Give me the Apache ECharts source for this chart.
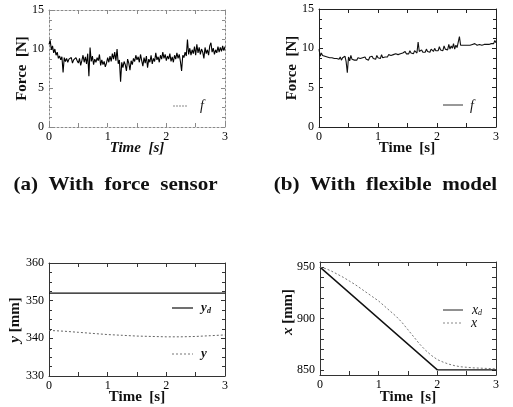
<!DOCTYPE html>
<html><head><meta charset="utf-8">
<script src="https://cdn.jsdelivr.net/npm/echarts@6/dist/echarts.min.js"></script>
<style>html,body{margin:0;padding:0;background:#fff}#c{width:513px;height:407px}</style>
</head><body><div id="c"></div>
<script>
// ---- data ----
const sampleStep = 0.02; // s, sampling step of force records
const forceSensor = [
10.6,11.1,9.9,10.4,9.5,10.0,9.2,9.6,8.8,9.1,8.6,9.0,7.0,8.9,8.4,8.8,8.3,8.7,8.5,8.9,
8.2,8.6,8.4,8.9,8.5,8.2,8.8,7.9,8.5,9.2,8.3,9.0,8.1,9.4,6.5,10.2,8.4,9.1,8.0,8.7,
8.3,8.9,8.5,9.3,7.9,8.6,8.0,8.4,7.7,8.2,8.9,8.3,9.1,8.4,9.4,8.7,9.6,8.5,10.0,8.1,
8.6,5.8,8.3,7.6,8.4,8.0,7.2,8.7,8.2,7.3,8.5,8.0,8.8,8.4,9.2,8.6,9.0,8.3,9.3,8.5,
7.8,8.9,8.2,9.1,7.6,8.7,8.3,9.2,8.1,8.8,8.4,9.5,8.6,9.0,8.3,9.2,8.7,9.6,8.8,9.3,
8.5,9.1,8.7,9.4,8.4,9.0,8.3,9.2,8.7,9.5,8.8,9.3,8.4,7.2,9.2,8.9,9.6,9.1,11.2,9.3,
10.1,9.2,9.9,9.4,10.3,9.2,10.6,9.5,10.2,9.3,10.0,9.6,8.8,10.2,9.4,9.9,9.2,10.4,10.8,9.6,
10.1,9.3,9.9,9.5,10.3,9.6,10.2,9.7,10.4,9.8,10.3
];
const forceFlexible = [
9.9,9.0,9.4,9.1,9.3,9.0,9.2,8.9,9.1,8.8,9.0,8.8,9.0,8.7,8.9,8.7,8.8,8.6,8.9,8.5,
8.8,8.6,9.0,8.3,6.9,8.9,8.4,9.1,8.6,8.8,8.5,8.7,8.5,8.8,8.6,8.7,8.5,8.8,8.6,8.9,
8.6,8.8,8.5,8.9,8.7,9.0,8.7,8.9,8.6,9.1,8.8,8.9,8.7,9.2,8.8,9.0,8.9,9.1,8.9,9.2,
9.0,9.1,8.9,9.2,9.0,9.3,9.1,9.2,9.0,9.3,9.1,9.4,9.2,9.6,9.3,9.5,9.3,9.7,9.4,9.6,
9.3,9.7,9.5,9.4,10.8,9.6,9.4,9.8,9.5,9.7,9.5,9.9,9.6,9.8,9.5,9.9,9.7,9.6,10.0,9.7,
9.9,9.7,10.2,9.8,10.0,9.7,10.3,9.9,10.1,9.8,10.5,9.9,10.3,10.0,10.6,9.9,10.4,10.1,10.2,11.5,
10.4,10.6,10.4,10.5,10.4,10.5,10.4,10.6,10.4,10.5,10.5,10.4,10.6,10.5,10.4,10.6,10.5,10.6,10.4,10.6,
10.5,10.7,10.5,10.6,10.5,10.7,10.6,10.8,10.6,11.0,10.7
];
const yTime = [0,0.25,0.5,0.75,1.0,1.25,1.5,1.75,2.0,2.25,2.5,2.75,3.0];
const yActual = [342.1,341.9,341.6,341.3,341.0,340.8,340.6,340.5,340.4,340.4,340.5,340.7,340.9];
const ydTime = [0,3];
const yDesired = [352,352];
const xdTime = [0,2,3];
const xDesired = [950,850,850];
const xTime = [0,0.1,0.2,0.3,0.4,0.5,0.6,0.7,0.8,0.9,1.0,1.1,1.2,1.3,1.4,1.5,1.6,1.7,1.8,1.9,2.0,2.1,2.2,2.3,2.4,2.5,2.6,2.8,3.0];
const xActual = [950,948.5,946,943,940,936.5,933,929,925,921,917,912,907,902,896,889,882,875,869,864,860,857.5,855.5,854,853,852.5,852,851.5,851];
const timeTicks = [0,1,2,3];
const forceRange = [0,15];
const yRange = [330,360];
const xRange = [845,955];
const xPosLabels = [850,900,950];
const xPosTicks = [850,860,870,880,890,900,910,920,930,940,950];

// ---- chart ----
const FONT = 'Liberation Serif';
const grids = [
  {left:49, top:10, width:176, height:117},
  {left:319, top:9, width:177, height:118},
  {left:49, top:263, width:176, height:113},
  {left:320, top:262, width:176, height:113}
];
const frames = [
  {color:'#8a8a8a', width:1, type:[2,2]},
  {color:'#222', width:1, type:'solid'},
  {color:'#333', width:1, type:'solid'},
  {color:'#333', width:1, type:'solid'}
];
const xAxes = [], yAxes = [];
const lbl = {fontFamily:FONT, fontSize:12, color:'#000'};
function addAxes(g, yCfg) {
  const ls = frames[g];
  ['bottom','top'].forEach((pos,i)=>{
    xAxes.push({type:'value', gridIndex:g, position:pos, min:timeTicks[0], max:timeTicks[timeTicks.length-1], interval:1,
      axisLine:{show:true, onZero:false, lineStyle:ls},
      axisTick:{show:true, inside:true, length:4, lineStyle:{color:ls.color}},
      minorTick:{show:true, splitNumber:2, length:4, lineStyle:{color:ls.color}},
      splitLine:{show:false},
      axisLabel:Object.assign({show:i===0, margin:4}, lbl)});
  });
  ['left','right'].forEach((pos,i)=>{
    const a = {type:'value', gridIndex:g, position:pos, min:yCfg.min, max:yCfg.max,
      axisLine:{show:true, onZero:false, lineStyle:ls},
      axisTick:{show:true, inside:true, length:4, lineStyle:{color:ls.color}},
      splitLine:{show:false},
      axisLabel:Object.assign({show:i===0, margin:5}, lbl)};
    if (yCfg.interval) {
      a.interval = yCfg.interval;
      a.minorTick = {show:true, splitNumber:yCfg.split, length:3, lineStyle:{color:ls.color}};
    } else {
      a.axisLabel.customValues = yCfg.labels;
      a.axisTick.customValues = yCfg.ticks;
    }
    yAxes.push(a);
  });
}
addAxes(0, {min:forceRange[0], max:forceRange[1], interval:5, split:4});
addAxes(1, {min:forceRange[0], max:forceRange[1], interval:5, split:4});
addAxes(2, {min:yRange[0], max:yRange[1], interval:10, split:4});
addAxes(3, {min:xRange[0], max:xRange[1], labels:xPosLabels, ticks:xPosTicks});

const pairs = (ts, vs) => vs.map((v,i)=>[ts[i], v]);
const sampled = vs => vs.map((v,i)=>[+(i*sampleStep).toFixed(3), v]);
function line(g, data, style) {
  return {type:'line', xAxisIndex:2*g, yAxisIndex:2*g, data, showSymbol:false, symbol:'none',
    lineStyle:style, silent:true, z:3};
}
const series = [
  line(0, sampled(forceSensor), {color:'#000', width:1.1}),
  line(1, sampled(forceFlexible), {color:'#111', width:1.1}),
  line(2, pairs(ydTime, yDesired), {color:'#111', width:1.2}),
  line(2, pairs(yTime, yActual), {color:'#666', width:1, type:[2,2]}),
  line(3, pairs(xdTime, xDesired), {color:'#111', width:1.4}),
  line(3, pairs(xTime, xActual), {color:'#777', width:1, type:[2,2]})
];

const T = (x,y,text,extra) => ({type:'text', x, y, silent:true, style:Object.assign({text, fontFamily:FONT, fill:'#111', align:'center', verticalAlign:'middle'}, extra)});
const bold = {fontWeight:'bold', fontSize:15};
const graphic = [
  T(21.7,68.5,'Force  [N]', Object.assign({}, bold)),
  T(137,148,'Time  [s]', Object.assign({fontStyle:'italic'}, bold)),
  T(292,68,'Force  [N]', Object.assign({}, bold)),
  T(407,148,'Time  [s]', Object.assign({}, bold)),
  T(15,320,'{i|y} [mm]', Object.assign({rich:{i:{fontStyle:'italic', fontWeight:'bold', fontSize:15, fontFamily:FONT}}}, bold)),
  T(137,397,'Time  [s]', Object.assign({}, bold)),
  T(288,312,'{i|x} [mm]', Object.assign({rich:{i:{fontStyle:'italic', fontWeight:'bold', fontSize:15, fontFamily:FONT}}}, bold)),
  T(408,397,'Time  [s]', Object.assign({}, bold)),
  T(115.5,185,'(a)  With  force  sensor', {fontWeight:'bold', fontSize:19}),
  T(385.5,185,'(b)  With  flexible  model', {fontWeight:'bold', fontSize:19}),
  // legends
  {type:'line', silent:true, shape:{x1:173,y1:106,x2:188,y2:106}, style:{stroke:'#888', lineWidth:1, lineDash:[2,1]}},
  T(202,106,'f', {fontStyle:'italic', fontSize:14}),
  {type:'line', silent:true, shape:{x1:443,y1:105,x2:463,y2:105}, style:{stroke:'#333', lineWidth:1}},
  T(472,106,'f', {fontStyle:'italic', fontSize:14}),
  {type:'line', silent:true, shape:{x1:172,y1:308,x2:193,y2:308}, style:{stroke:'#111', lineWidth:1.2}},
  T(206,308,'{m|y}{s|d}', {rich:{m:{fontStyle:'italic', fontWeight:'bold', fontSize:13, fontFamily:FONT}, s:{fontStyle:'italic', fontWeight:'bold', fontSize:8, fontFamily:FONT, padding:[6,0,0,0]}}}),
  {type:'line', silent:true, shape:{x1:172,y1:354,x2:193,y2:354}, style:{stroke:'#777', lineWidth:1, lineDash:[2,2]}},
  T(204,354,'y', {fontStyle:'italic', fontWeight:'bold', fontSize:13}),
  {type:'line', silent:true, shape:{x1:443,y1:310,x2:463,y2:310}, style:{stroke:'#222', lineWidth:1}},
  T(477,310,'{m|x}{s|d}', {rich:{m:{fontStyle:'italic', fontSize:14, fontFamily:FONT}, s:{fontStyle:'italic', fontSize:8, fontFamily:FONT, padding:[6,0,0,0]}}}),
  {type:'line', silent:true, shape:{x1:443,y1:323,x2:463,y2:323}, style:{stroke:'#888', lineWidth:1, lineDash:[2,2]}},
  T(474,323,'x', {fontStyle:'italic', fontSize:14})
];
[0,2,4,6].forEach(i => { graphic[i].rotation = Math.PI/2; });
graphic[8].scaleX = 1.11;
graphic[9].scaleX = 1.11;

const chart = echarts.init(document.getElementById('c'), null, {renderer:'canvas'});
chart.setOption({
  animation:false,
  backgroundColor:'#fff',
  grid:grids,
  xAxis:xAxes,
  yAxis:yAxes,
  series,
  graphic
});
</script></body></html>
